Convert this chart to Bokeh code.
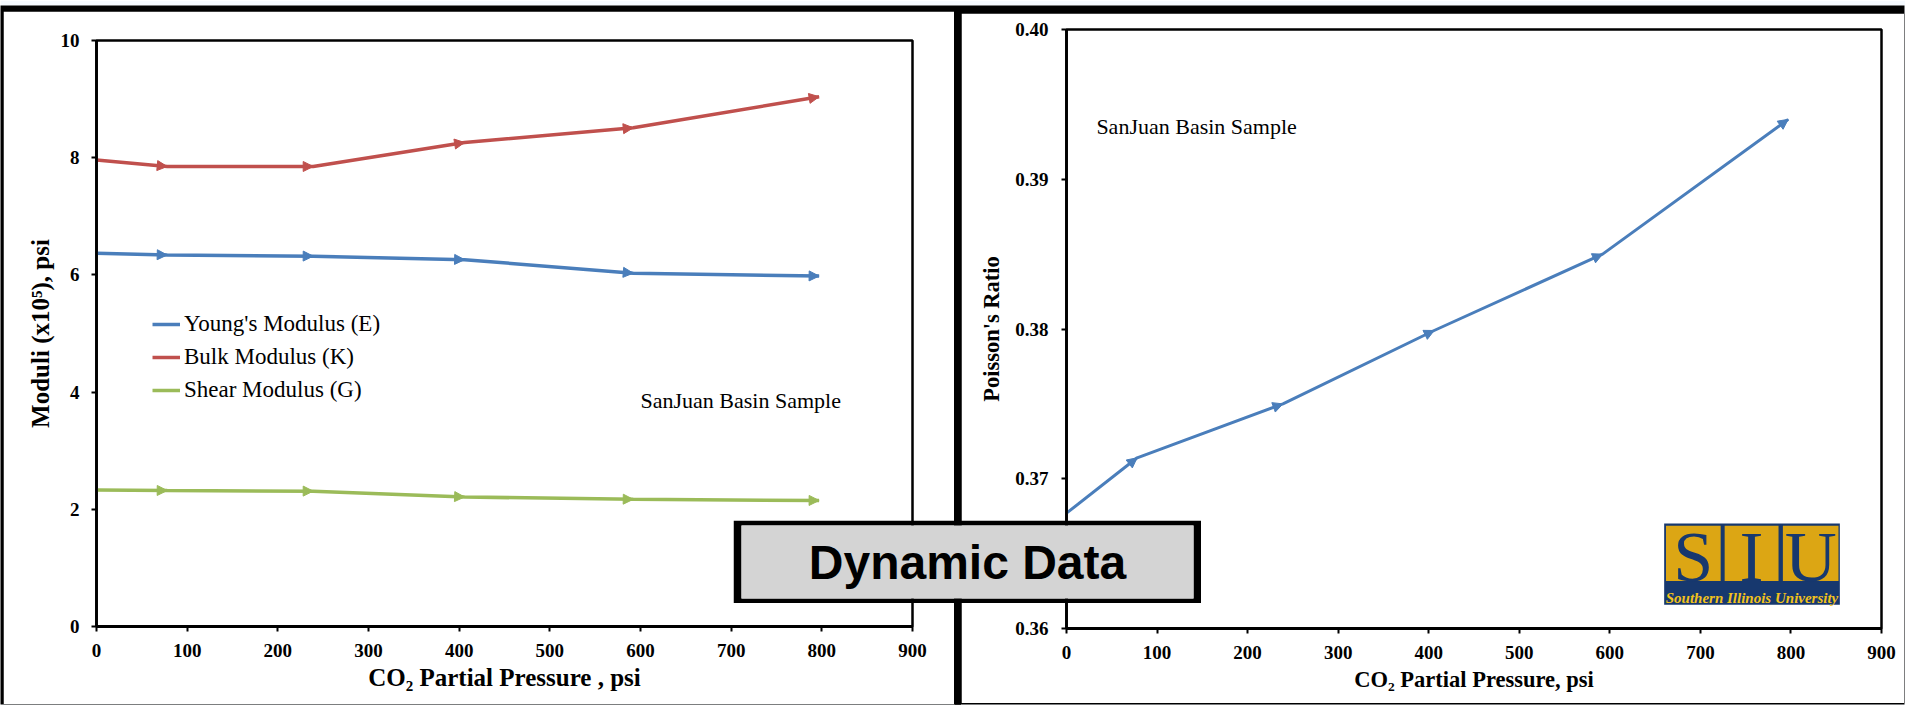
from bokeh.plotting import figure
from bokeh.models import (Range1d, FixedTicker, NumeralTickFormatter, Label, Legend, LegendItem,
                          Arrow, NormalHead, ColumnDataSource, GridBox, BoxAnnotation)
from bokeh.core.validation import silence
from bokeh.core.validation.warnings import MISSING_RENDERERS
from bokeh.embed import file_html
from bokeh.resources import INLINE

silence(MISSING_RENDERERS, True)

# ---------------- data ----------------
pressure = [0, 78, 239, 406, 592, 797]
youngs = [6.37, 6.34, 6.32, 6.26, 6.03, 5.98]
bulk = [7.96, 7.85, 7.85, 8.26, 8.51, 9.04]
shear = [2.33, 2.32, 2.31, 2.21, 2.17, 2.15]
poisson = [0.3677, 0.3714, 0.3750, 0.3799, 0.3850, 0.3940]

x_ticks = [0, 100, 200, 300, 400, 500, 600, 700, 800, 900]
moduli_ticks = [0, 2, 4, 6, 8, 10]
poisson_ticks = [0.36, 0.37, 0.38, 0.39, 0.40]

series_names = ["Young's Modulus (E)", "Bulk Modulus (K)", "Shear Modulus (G)"]
series_colors = ["#4A7EBB", "#C0504D", "#9BBB59"]

SERIF = "Liberation Serif"


def style(p, xlabel, ylabel, title_size, ytick_standoff, ylab_standoff, xlab_standoff):
    p.outline_line_color = "black"
    p.outline_line_width = 2.5
    p.xgrid.visible = False
    p.ygrid.visible = False
    p.background_fill_color = "white"
    p.border_fill_color = "white"
    for ax in (p.xaxis[0], p.yaxis[0]):
        ax.axis_line_width = 2.8
        ax.axis_line_color = "black"
        ax.major_tick_out = 5
        ax.major_tick_in = 0
        ax.major_tick_line_width = 2
        ax.major_tick_line_color = "black"
        ax.minor_tick_out = 0
        ax.minor_tick_in = 0
        ax.major_label_text_font = SERIF
        ax.major_label_text_font_style = "bold"
        ax.major_label_text_font_size = "19px"
        ax.major_label_text_color = "black"
        ax.axis_label_text_font = SERIF
        ax.axis_label_text_font_style = "bold"
        ax.axis_label_text_font_size = title_size
        ax.axis_label_text_color = "black"
    p.xaxis[0].axis_label = xlabel
    p.yaxis[0].axis_label = ylabel
    p.xaxis[0].major_label_standoff = 12
    p.yaxis[0].major_label_standoff = ytick_standoff
    p.yaxis[0].axis_label_standoff = ylab_standoff
    p.xaxis[0].axis_label_standoff = xlab_standoff
    p.xaxis[0].ticker = FixedTicker(ticks=x_ticks)


def add_arrows(p, xs, ys, color, size):
    src = ColumnDataSource(dict(x0=xs[:-1], y0=ys[:-1], x1=xs[1:], y1=ys[1:]))
    p.add_layout(Arrow(end=NormalHead(size=size, fill_color=color, line_color=color, line_width=1),
                       source=src, x_start="x0", y_start="y0", x_end="x1", y_end="y1",
                       line_alpha=0, line_width=0))


def block(w, h, fill, border, top=0, bottom=0, right=0):
    b = figure(width=w, height=h, output_backend="svg", toolbar_location=None,
               x_axis_location=None, y_axis_location=None, min_border=0,
               min_border_top=top, min_border_bottom=bottom, min_border_right=right,
               x_range=Range1d(0, 1), y_range=Range1d(0, 1))
    b.grid.visible = False
    b.background_fill_color = fill
    b.border_fill_color = border
    b.outline_line_color = None
    return b


# ---------------- left chart ----------------
left = figure(width=951, height=693, x_range=Range1d(0, 900), y_range=Range1d(0, 10),
              output_backend="svg", toolbar_location=None,
              min_border_left=93, min_border_right=42, min_border_top=29, min_border_bottom=78)
style(left, "CO\u2082 Partial Pressure , psi", "Moduli (x10\u2075), psi", "25px", 12, 4, 4)
left.yaxis[0].ticker = FixedTicker(ticks=moduli_ticks)

items = []
for name, col, ys in zip(series_names, series_colors, [youngs, bulk, shear]):
    r = left.line(pressure, ys, line_color=col, line_width=3.5)
    add_arrows(left, pressure, ys, col, 10)
    items.append(LegendItem(label=name, renderers=[r]))

legend = Legend(items=items, location=(56, 223), padding=0, margin=0, spacing=7,
                glyph_width=28, glyph_height=26, label_height=26, label_standoff=4,
                label_text_font=SERIF, label_text_font_size="23px", label_text_color="black",
                border_line_alpha=0, background_fill_alpha=0)
left.add_layout(legend)

left.add_layout(Label(x=600, y=3.85, text="SanJuan Basin Sample", text_font=SERIF,
                      text_font_size="22px", text_baseline="middle", text_color="black"))

# ---------------- right chart ----------------
right = figure(width=943, height=690, x_range=Range1d(0, 900), y_range=Range1d(0.36, 0.40),
               output_backend="svg", toolbar_location=None,
               min_border_left=105, min_border_right=23, min_border_top=16, min_border_bottom=75)
style(right, "CO\u2082 Partial Pressure, psi", "Poisson's Ratio", "22.5px", 13, 8, 5)
right.yaxis[0].ticker = FixedTicker(ticks=poisson_ticks)
right.yaxis[0].formatter = NumeralTickFormatter(format="0.00")

right.line(pressure, poisson, line_color="#4A7EBB", line_width=3)
add_arrows(right, pressure, poisson, "#4A7EBB", 10)

right.add_layout(Label(x=33, y=0.3935, text="SanJuan Basin Sample", text_font=SERIF,
                       text_font_size="22px", text_baseline="middle", text_color="black"))

# SIU logo (decoration)
NAVY = "#17386E"
GOLD = "#DCA614"
right.add_layout(BoxAnnotation(left=660, right=854, bottom=0.36158, top=0.36702,
                               fill_color=NAVY, fill_alpha=1, line_alpha=0))
for l, r_, letter in [(662, 722.4, "S"), (726.8, 786.3, "I"), (791.1, 852.5, "U")]:
    right.add_layout(BoxAnnotation(left=l, right=r_, bottom=0.36318, top=0.36686,
                                   fill_color=GOLD, fill_alpha=1, line_alpha=0))
    right.add_layout(Label(x=(l + r_) / 2, y=0.36475, text=letter, text_align="center",
                           text_baseline="middle", text_font=SERIF, text_font_size="72px",
                           text_color=NAVY))
right.add_layout(Label(x=757, y=0.36205, text="Southern Illinois University", text_align="center",
                       text_baseline="middle", text_font=SERIF, text_font_style="bold italic",
                       text_font_size="15px", text_color="#F2C21B"))

# ---------------- "Dynamic Data" box ----------------
box = figure(width=468, height=83, x_range=Range1d(0, 1), y_range=Range1d(0, 1),
             output_backend="svg", toolbar_location=None,
             x_axis_location=None, y_axis_location=None,
             min_border_left=8, min_border_right=8, min_border_top=5, min_border_bottom=5)
box.grid.visible = False
box.border_fill_color = "black"
box.background_fill_color = "#D4D4D4"
box.outline_line_color = None
box.add_layout(Label(x=0.5, y=0.5, text="Dynamic Data", text_align="center", text_baseline="middle",
                     text_font="Liberation Sans", text_font_style="bold", text_font_size="48px",
                     text_color="black"))

# ---------------- frame decorations ----------------
backdrop = block(1905, 705, "black", "#F4F9FE", top=5, bottom=1, right=1)
divider = block(7, 697, "black", "black")

# cols: 0-3, 3-733, 733-954, 954-961, 961-972, 972-1201, 1201-1904, 1904-1905
# rows: 0-5, 5-8, 8-11, 11-13, 13-520, 520-603, 603-703, 703-704, 704-705
grid = GridBox(children=[(backdrop, 0, 0, 9, 8),
                         (left, 3, 1, 5, 2),
                         (right, 4, 4, 3, 3),
                         (divider, 2, 3, 7, 1),
                         (box, 5, 2, 1, 4)],
               rows=["5px", "3px", "3px", "2px", "507px", "83px", "100px", "1px", "1px"],
               cols=["3px", "730px", "221px", "7px", "11px", "229px", "703px", "1px"])

open("out.html", "w").write(file_html(grid, INLINE))
